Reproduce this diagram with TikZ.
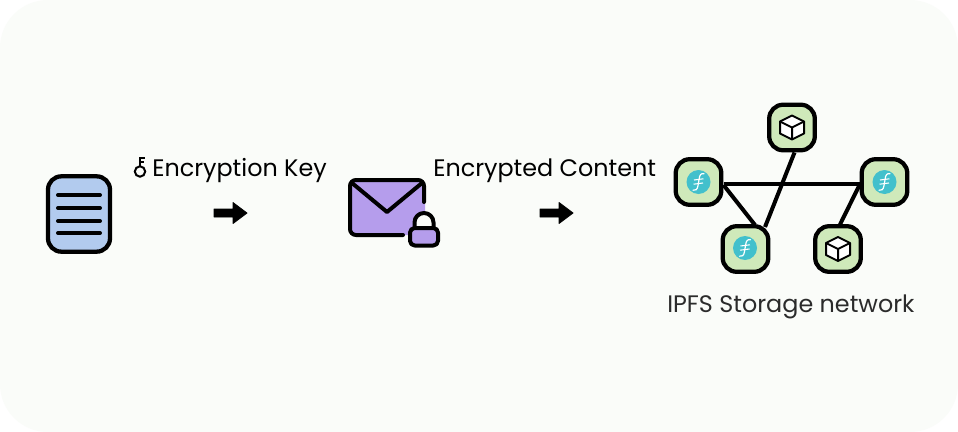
\documentclass[tikz,border=0pt]{standalone}
\usepackage{fontspec}
\setmainfont{Poppins}
\usetikzlibrary{calc}
\definecolor{bgc}{HTML}{FAFCF9}
\definecolor{docblue}{HTML}{B2CBEE}
\definecolor{envp}{HTML}{B59DEC}
\definecolor{nodeg}{HTML}{CFE9BA}
\definecolor{fil}{HTML}{42C0CC}
\definecolor{labg}{HTML}{2B2B2B}
\tikzset{
  x=0.75pt,y=-0.75pt,
  ink/.style={line width=3pt,draw=black,line cap=round,line join=round},
  netnode/.style={draw=black,line width=3.2pt,fill=nodeg,rounded corners=10.5pt,minimum width=34.2pt,minimum height=34.2pt,inner sep=0pt,outer sep=0pt},
  link/.style={line width=3pt,draw=black},
  label/.style={font=\fontsize{17.9pt}{20pt}\selectfont,inner sep=0pt,anchor=base west},
  bigarrow/.style={fill=black,draw=black,line width=0.6pt,line join=round},
  cube/.style={fill=white,draw=black,line width=1.5pt,line join=round},
}
\newcommand{\cubeicon}[1]{%
  \begin{scope}[shift={(#1)}]
    \draw[cube] (0,-12) -- (12,-6) -- (12,6) -- (0,12) -- (-12,6) -- (-12,-6) -- cycle;
    \draw[cube,fill=none] (-12,-6) -- (0,0) -- (12,-6) (0,0) -- (0,12);
  \end{scope}}
\newcommand{\filicon}[1]{%
  \begin{scope}[shift={(#1)}]
    \fill[fil] (0,0) circle (12);
    \draw[white,line width=0.9pt,line cap=round] (5.5,-8.2) .. controls (2.5,-9) and (1.2,-7) .. (0.7,-3.5) -- (-0.6,4) .. controls (-1.2,7.5) and (-3,9) .. (-5.5,8.2);
    \draw[white,line width=0.8pt] (-4.5,-2) -- (5,-3.2) (-5,2.2) -- (4.5,1);
  \end{scope}}
\newcommand{\arrowicon}[1]{%
  \begin{scope}[shift={(#1)}]
    \filldraw[bigarrow] (0,-4) -- (19,-4) -- (19,-10.5) -- (33,0) -- (19,10.5) -- (19,4) -- (0,4) -- cycle;
  \end{scope}}
\begin{document}
\begin{tikzpicture}
\useasboundingbox (0,0) rectangle (958,432);
\fill[white] (0,0) rectangle (958,432);
\fill[bgc,rounded corners=36pt] (0,0) rectangle (958,432);

% document
\node[draw=black,line width=3.2pt,fill=docblue,rounded corners=10pt,minimum width=46.5pt,minimum height=56.5pt,inner sep=0pt,outer sep=0pt] (doc) at (79,214) {};
\foreach \yy in {195,208,221,233}{\draw[ink] (58,\yy) -- (100,\yy);}

% key and label
\node[label] (keylabel) at (152,176) {Encryption Key};
\coordinate (keyc) at (140,171.5);
\draw[black,line width=1.5pt] (keyc) circle (5.2);
\draw[black,line width=1.5pt] ($(keyc)+(0,-5)$) -- ($(keyc)+(0,-15)$);
\draw[black,line width=1.5pt] ($(keyc)+(0,-14)$) -- ($(keyc)+(4.5,-14)$) ($(keyc)+(0,-10)$) -- ($(keyc)+(3.5,-10)$);

\arrowicon{214,213}

% envelope
\fill[envp,rounded corners=6pt] (350,180) rectangle (425,235);
\draw[ink] (424,202) -- (424,186) arc (0:-90:6) -- (356,180) arc (270:180:6) -- (350,229) arc (180:90:6) -- (403,235);
\draw[ink] (352,183) -- (387,212) -- (422,183);
% lock
\fill[bgc] (414.5,228) -- (414.5,222.5) arc (180:360:9.5) -- (433.5,228) -- cycle;
\draw[ink] (414.5,228) -- (414.5,222.5) arc (180:360:9.5) -- (433.5,228);
\draw[ink,fill=envp,rounded corners=3.5pt] (410,228) rectangle (438,245.5);

\node[label] (enclabel) at (433,176) {Encrypted Content};
\arrowicon{540,213}

% network
\node[netnode] (ntop) at (792,127.5) {};
\node[netnode] (nleft) at (698.5,182) {};
\node[netnode] (nright) at (884.5,182) {};
\node[netnode] (nbl) at (745.5,249) {};
\node[netnode] (nbr) at (838,249) {};

\draw[link] ($(nleft.center)+(25,2)$) -- ($(nright.center)+(-25,2)$);
\draw[link] ($(ntop.center)+(2.5,25)$) -- ($(nbl.center)+(19.5,-22)$);
\draw[link] ($(nleft.center)+(25,3)$) -- ($(nbl.center)+(9.5,-24)$);
\draw[link] ($(nright.center)+(-25,3)$) -- ($(nbr.center)+(2,-24.5)$);

\cubeicon{792,127.5}
\cubeicon{838,249}
\filicon{698.5,182}
\filicon{884.5,182}
\filicon{745,248}

\node[label,text=labg] (netlabel) at (667,312) {IPFS Storage network};
\end{tikzpicture}
\end{document}
